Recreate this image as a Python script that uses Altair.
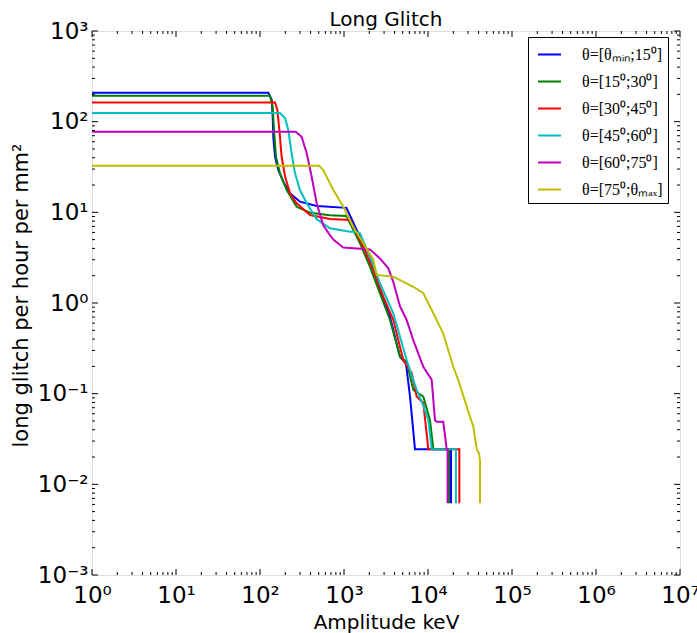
import altair as alt
import pandas as pd

labels = ["θ=[θₘᵢₙ;15⁰]", "θ=[15⁰;30⁰]", "θ=[30⁰;45⁰]",
          "θ=[45⁰;60⁰]", "θ=[60⁰;75⁰]", "θ=[75⁰;θₘₐₓ]"]
colors = ["#0000ff", "#008000", "#ff0000", "#00bfbf", "#bf00bf", "#bfbf00"]

x_s1 = [1, 125.6, 138, 141.6, 144, 151, 165, 189, 228, 299, 473, 1070, 1416, 2040,
        2680, 3530, 4640, 5470, 6110, 7000, 18800, 18800]
y_s1 = [209, 209, 173, 113, 68, 41, 29.3, 21.8, 16.2, 13.1, 11.75, 11.2, 6.4, 3.24,
        1.39, 0.706, 0.256, 0.215, 0.093, 0.0244, 0.0244, 0.0062]

x_s2 = [1, 131.6, 141.6, 146.8, 155, 173, 208, 273, 394, 681, 1070, 1550, 2040, 2680,
        3530, 4640, 5570, 6680, 8790, 10570, 11570, 17800, 17800]
y_s2 = [193, 193, 146, 81, 41, 26.9, 17.6, 11.5, 9.9, 9.27, 9.1, 4.55, 2.5, 1.28,
        0.65, 0.256, 0.225, 0.11, 0.093, 0.051, 0.0244, 0.0244, 0.0062]

x_s3 = [1, 151, 161, 170, 181, 199, 228, 273, 394, 681, 1180, 1700, 2230, 2940,
        3865, 5080, 6400, 7330, 8790, 10090, 23600, 23600]
y_s3 = [163, 163, 134, 81, 41, 24.7, 16.2, 12.6, 9.35, 8.45, 8.24, 4.15, 2.31, 1.17,
        0.65, 0.235, 0.168, 0.093, 0.079, 0.0244, 0.0244, 0.0062]

x_s4 = [1, 173, 199, 217, 238, 261, 299, 360, 473, 681, 1180, 1353, 1550, 2040, 2680,
        3865, 5570, 7330, 8790, 10090, 11070, 21500, 21500]
y_s4 = [124.7, 124.7, 109, 81, 44.8, 26.9, 17.6, 12.6, 8.4, 6.67, 6.1, 6.1, 5.87, 3.24,
        1.65, 0.77, 0.235, 0.11, 0.074, 0.051, 0.0244, 0.0244, 0.0062]

x_s5 = [1, 266, 313, 360, 412, 473, 566, 681, 747, 896, 981, 1416, 2040, 2680, 3370,
        3865, 4640, 5570, 6680, 8790, 11070, 12100, 12700, 15200, 16700, 17100, 17100]
y_s5 = [77.5, 77.5, 68, 44.8, 24.7, 12.6, 7.2, 5.6, 5.0, 4.36, 4.1, 4.0, 3.9, 3.1, 2.41,
        1.7, 0.92, 0.65, 0.39, 0.198, 0.142, 0.051, 0.049, 0.049, 0.0244, 0.0244, 0.0062]

x_s6 = [1, 505, 566, 747, 981, 1290, 1700, 2230, 2450, 3865, 6680, 8790, 11570, 15200,
        20000, 22900, 28900, 34700, 38000, 40500, 41600, 41600]
y_s6 = [32.7, 32.7, 29.3, 17.6, 11.5, 6.9, 4.57, 3.0, 2.04, 1.95, 1.51, 1.28, 0.77, 0.46,
        0.198, 0.142, 0.072, 0.043, 0.0244, 0.022, 0.018, 0.0062]

x_major = [1, 10, 100, 1e3, 1e4, 1e5, 1e6, 1e7]
y_major = [1e-3, 1e-2, 1e-1, 1, 10, 100, 1e3]
x_minor = [k * 10.0 ** d for d in range(0, 7) for k in range(2, 10)]
y_minor = [k * 10.0 ** d for d in range(-3, 3) for k in range(2, 10)]

xs = [x_s1, x_s2, x_s3, x_s4, x_s5, x_s6]
ys = [y_s1, y_s2, y_s3, y_s4, y_s5, y_s6]
rows = []
for lab, xa, ya in zip(labels, xs, ys):
    for i, (a, b) in enumerate(zip(xa, ya)):
        rows.append({"series": lab, "x": a, "y": b, "i": i})
df = pd.DataFrame(rows)

xscale = alt.Scale(type="log", domain=[1, 1e7], nice=False)
yscale = alt.Scale(type="log", domain=[1e-3, 1e3], nice=False)

x_expr = "'10' + ['⁰','¹','²','³','⁴','⁵','⁶','⁷'][round(log(datum.value)/LN10)]"
y_expr = "'10' + ['⁻³','⁻²','⁻¹','⁰','¹','²','³'][round(log(datum.value)/LN10)+3]"

xaxis = alt.Axis(values=x_major, labelExpr=x_expr, title="Amplitude keV",
                 ticks=False, domain=False, grid=False,
                 labelFont="DejaVu Sans", labelFontSize=23, labelPadding=9,
                 labelColor="black", labelFlush=False, labelOverlap=False,
                 titleFont="DejaVu Sans", titleFontSize=20,
                 titleFontWeight="normal", titleColor="black",
                 titleBaseline="alphabetic", titleY=53)
yaxis = alt.Axis(values=y_major, labelExpr=y_expr,
                 title="long glitch per hour per mm²",
                 ticks=False, domain=False, grid=False,
                 labelFont="DejaVu Sans", labelFontSize=23, labelPadding=4,
                 labelColor="black", labelFlush=False, labelOverlap=False,
                 titleFont="DejaVu Sans", titleFontSize=21,
                 titleFontWeight="normal", titleColor="black",
                 titleAngle=270, titleBaseline="alphabetic",
                 titleX=-65, titleY=264)

lines = alt.Chart(df).mark_line(strokeWidth=2).encode(
    x=alt.X("x:Q", scale=xscale, axis=xaxis),
    y=alt.Y("y:Q", scale=yscale, axis=yaxis),
    color=alt.Color("series:N", sort=labels,
                    scale=alt.Scale(domain=labels, range=colors),
                    legend=alt.Legend(title=None, orient="none", legendX=436, legendY=6,
                                      strokeColor="black", fillColor="white",
                                      padding=5, cornerRadius=0,
                                      symbolType="stroke", symbolSize=529,
                                      symbolStrokeWidth=2, labelFont="Liberation Serif",
                                      labelFontSize=16, labelOffset=20, rowPadding=6,
                                      symbolOffset=4,
                                      labelColor="black", labelLimit=300)),
    order="i:Q",
)

def xticks(vals, ydatum, off):
    return alt.Chart(pd.DataFrame({"t": vals})).mark_rule(
        color="black", strokeWidth=1, y2Offset=off).encode(
        x=alt.X("t:Q", scale=xscale, axis=xaxis),
        y=alt.YDatum(ydatum, scale=yscale, axis=yaxis),
        y2=alt.Y2Datum(ydatum))

def yticks(vals, xdatum, off):
    return alt.Chart(pd.DataFrame({"t": vals})).mark_rule(
        color="black", strokeWidth=1, x2Offset=off).encode(
        y=alt.Y("t:Q", scale=yscale, axis=yaxis),
        x=alt.XDatum(xdatum, scale=xscale, axis=xaxis),
        x2=alt.X2Datum(xdatum))

ticks = [
    xticks(x_major, 1e-3, -6), xticks(x_minor, 1e-3, -3),
    xticks(x_major, 1e3, 6), xticks(x_minor, 1e3, 3),
    yticks(y_major, 1, 6), yticks(y_minor, 1, 3),
    yticks(y_major, 1e7, -6), yticks(y_minor, 1e7, -3),
]

chart = alt.layer(lines, *ticks).properties(
    width=588, height=544,
    title=alt.TitleParams("Long Glitch", font="DejaVu Sans", fontSize=20,
                          fontWeight="normal", color="black", offset=4, dy=30,
                          baseline="alphabetic", anchor="middle", frame="group"),
    autosize=alt.AutoSizeParams(type="none"),
    padding={"left": 92, "top": 31, "right": 17, "bottom": 58},
).configure_view(stroke="black", strokeWidth=1).configure(background="white")

chart.save("out.html", embed_options={"renderer": "svg", "actions": False})
